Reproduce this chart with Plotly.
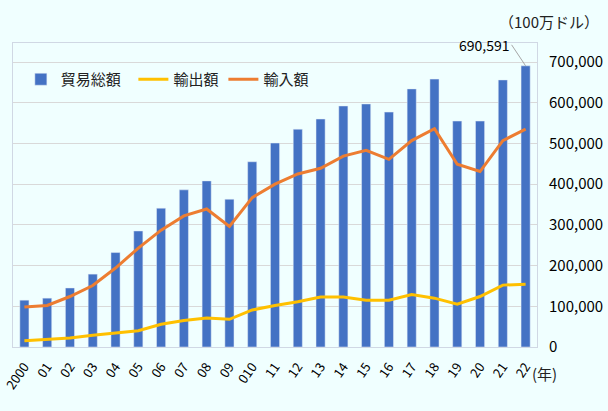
import plotly.graph_objects as go

# 年ラベル
years = ['2000', '01', '02', '03', '04', '05', '06', '07', '08', '09', '010',
         '11', '12', '13', '14', '15', '16', '17', '18', '19', '20', '21', '22']

# 貿易総額・輸出額・輸入額（100万ドル）
total = [115000, 120000, 145000, 179000, 232000, 285000, 341000, 386000, 408000, 363000,
         455000, 501000, 535000, 560000, 592000, 597000, 577000, 634000, 658000, 555000,
         555000, 656000, 690591]
exports = [15600, 19000, 22000, 29000, 34000, 40000, 56000, 65000, 71000, 68000,
           91000, 102000, 111000, 123000, 123000, 115000, 115000, 129000, 120000, 105000,
           124000, 152000, 154000]
imports = [98000, 102000, 124000, 151000, 194000, 243000, 287000, 322000, 339000, 296000,
           367000, 400000, 425000, 439000, 469000, 483000, 461000, 507000, 536000, 449000,
           431000, 507000, 535000]

font = 'Noto Sans CJK JP'
bg = '#F0FFFF'

fig = go.Figure()
# 凡例の間隔を少し広げるため名前の後ろに半角幅の空白
fig.add_trace(go.Bar(x=years, y=total, name='貿易総額\u2002', marker_color='#4472C4', width=0.4))
fig.add_trace(go.Scatter(x=years, y=exports, name='輸出額', mode='lines',
                         line=dict(color='#FFC000', width=3)))
fig.add_trace(go.Scatter(x=years, y=imports, name='輸入額', mode='lines',
                         line=dict(color='#ED7D31', width=3)))

fig.update_layout(
    width=608, height=411,
    margin=dict(l=13, r=71, t=43, b=64),
    paper_bgcolor=bg, plot_bgcolor=bg,
    font=dict(family=font, size=13, color='#000000'),
    showlegend=True,
    legend=dict(orientation='h', x=0.015, y=0.88, yanchor='middle', xanchor='left',
                bgcolor='rgba(0,0,0,0)', font=dict(size=15, color='#222222'),
                traceorder='normal'),
    bargap=0.6,
)
fig.update_xaxes(tickangle=-55, showline=True, mirror=True, linecolor='#D0D8E4',
                 ticks='', showgrid=False, tickfont=dict(size=13), automargin=False,
                 ticklabelstandoff=6)
fig.update_yaxes(side='right', range=[0, 746700], tickvals=list(range(0, 700001, 100000)),
                 tickformat=',', showgrid=True, gridcolor='#D9D9D9', zeroline=False,
                 showline=True, mirror=True, linecolor='#D0D8E4', ticks='',
                 tickfont=dict(size=15), automargin=False, ticklabelstandoff=8)

# 単位
fig.add_annotation(xref='paper', yref='paper', x=1.0, y=1.0, yshift=22, xshift=-40,
                   text='（100万ドル）', showarrow=False, xanchor='left', yanchor='middle',
                   font=dict(size=15, color='#222222'))
fig.add_annotation(xref='paper', yref='paper', x=1.0, y=0, xshift=-7, yshift=-26,
                   text='(年)', showarrow=False, xanchor='left', yanchor='middle',
                   font=dict(size=15, color='#222222'))

# 最終年の値ラベル
fig.add_annotation(x=years[-1], y=total[-1], text=f'{total[-1]:,}', showarrow=True,
                   arrowhead=0, arrowcolor='#A6A6A6', arrowwidth=1,
                   ax=-14, ay=-21, xanchor='right', yanchor='middle',
                   font=dict(size=14, color='#000000'))

fig.write_html('out.html', config={'displayModeBar': False},
               post_script="document.body.style.margin='0';")
